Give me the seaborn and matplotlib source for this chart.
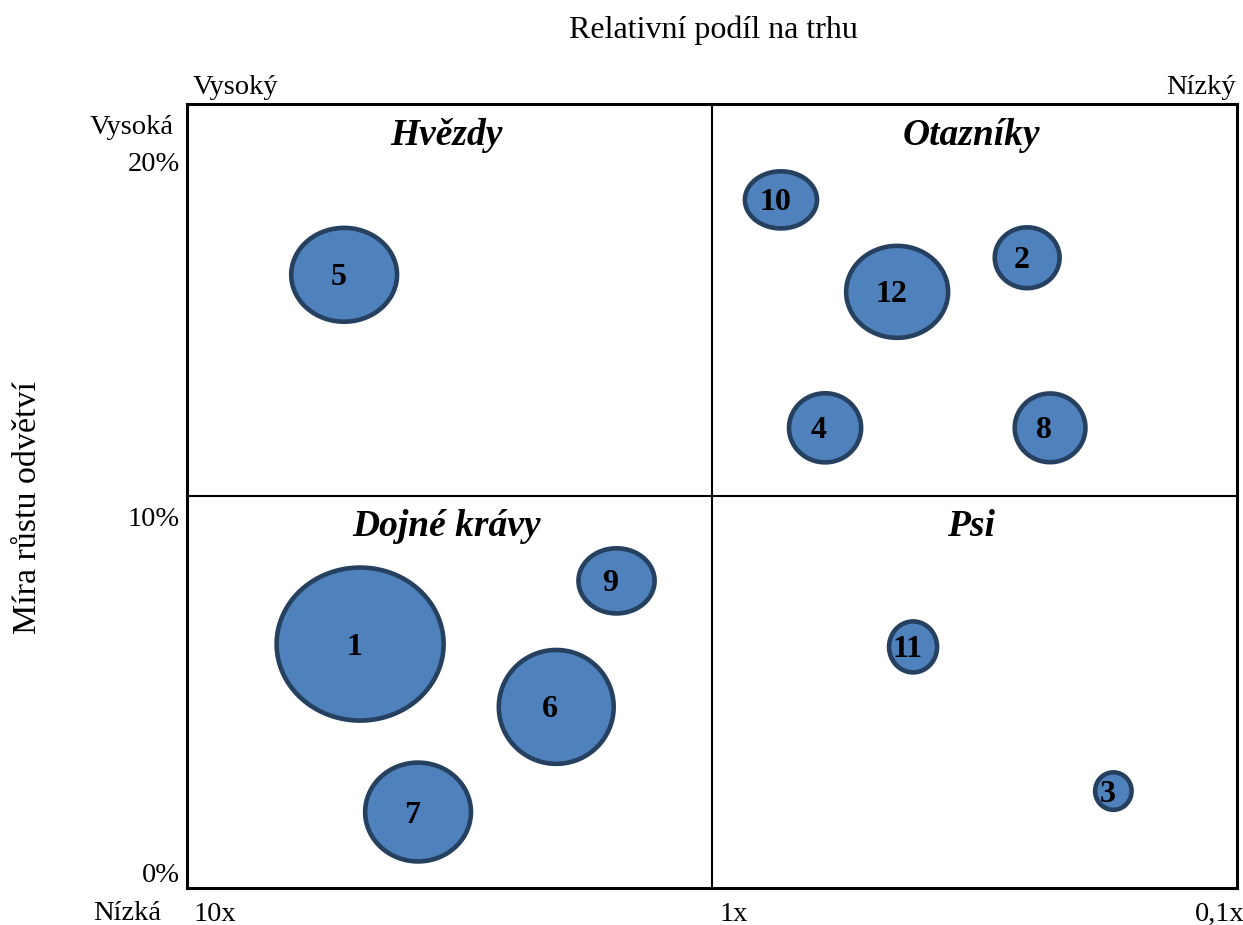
import numpy as np
import pandas as pd
import matplotlib
matplotlib.use("Agg")
import matplotlib.pyplot as plt
import matplotlib.path as mpath
import matplotlib.transforms as mtrans
import seaborn as sns

# ---------------- data ----------------
produkty = ["1", "2", "3", "4", "5", "6", "7", "8", "9", "10", "11", "12"]
relativni_podil = [4.68, 0.251, 0.172, 0.609, 5.02, 1.98, 3.63, 0.227, 1.52, 0.739, 0.414, 0.444]
mira_rustu = [6.42, 17.30, 2.28, 12.51, 16.82, 4.65, 1.69, 12.51, 8.20, 18.93, 6.34, 16.34]
velikost = [279, 42, 14, 52, 112, 132, 112, 50, 58, 52, 26, 104]
# height / width of each drawn bubble
pomer_stran = [153 / 167, 61 / 65, 38 / 37, 69 / 72, 94 / 106, 114 / 115,
               99 / 106, 69 / 71, 65 / 76, 57 / 72, 51 / 48, 92 / 102]

kvadranty = ["Hvězdy", "Otazníky", "Dojné krávy", "Psi"]
x_ticks = [10, 1, 0.1]
x_labels = ["10x", "1x", "0,1x"]
y_ticks = [0, 10, 20]
y_labels = ["0%", "10%", "20%"]
x_title = "Relativní podíl na trhu"
y_title = "Míra růstu odvětví"
x_kraje = ["Vysoký", "Nízký"]
y_kraje = ["Vysoká", "Nízká"]

df = pd.DataFrame({"produkt": produkty, "podil": relativni_podil,
                   "rust": mira_rustu, "velikost": velikost})

# ---------------- style ----------------
sns.set_theme(style="white")
plt.rcParams["font.family"] = ["Liberation Serif", "DejaVu Serif"]
plt.rcParams["text.color"] = "black"

W, H = 1243, 925
fig = plt.figure(figsize=(W / 100, H / 100), dpi=100)
ax = fig.add_axes([187 / W, 1 - 888 / H, (1237 - 187) / W, (888 - 104) / H])
ax.set_xscale("log")
ax.set_xlim(10, 0.1)
ylo, yhi = -0.45, 21.63
ax.set_ylim(ylo, yhi)


def ellipse(a):
    t = np.linspace(0, 2 * np.pi, 120)
    return mpath.Path(np.column_stack([np.cos(t), a * np.sin(t)]), closed=True)


markers = {p: ellipse(a) for p, a in zip(produkty, pomer_stran)}
vmax = max(velikost)

sns.scatterplot(data=df, x="podil", y="rust", size="velikost",
                sizes=(0, 51.84 * vmax), size_norm=(0, vmax),
                style="produkt", markers=markers,
                color="#4F81BD", edgecolor="#26405F", linewidth=3.3,
                legend=False, ax=ax, zorder=3)

lab_off = mtrans.ScaledTranslation(-6 / 100, -3 / 100, fig.dpi_scale_trans)
for p, xv, yv in zip(produkty, relativni_podil, mira_rustu):
    ax.text(xv, yv, p, ha="center", va="center", fontsize=23, fontweight="bold",
            zorder=4, transform=ax.transData + lab_off)

# quadrant lines
ax.axvline(1, color="black", lw=1.5, zorder=2)
ax.axhline((ylo + yhi) / 2, color="black", lw=1.5, zorder=2)
for s in ax.spines.values():
    s.set_color("black")
    s.set_linewidth(2.2)

# quadrant titles
qpos = [(0.247, 0.948), (0.747, 0.948), (0.247, 0.449), (0.747, 0.449)]
for name, (qx, qy) in zip(kvadranty, qpos):
    ax.text(qx, qy, name, transform=ax.transAxes, ha="center", va="baseline",
            fontsize=27, fontweight="bold", fontstyle="italic")

# ticks
ax.set_xticks(x_ticks)
ax.set_xticklabels(x_labels)
ax.xaxis.set_minor_locator(matplotlib.ticker.NullLocator())
ax.set_yticks(y_ticks)
ax.set_yticklabels(y_labels)
ax.tick_params(axis="both", length=0, labelsize=20.5, colors="black")
ax.tick_params(axis="x", pad=10)
ax.tick_params(axis="y", pad=5)
ax.set_xlabel("")
ax.set_ylabel("")
xt = ax.get_xticklabels()
offs = [(7, "left"), (8, "left"), (8, "right")]
for lab, (dx, ha) in zip(xt, offs):
    lab.set_ha(ha)
    lab.set_transform(lab.get_transform() + mtrans.ScaledTranslation(dx / 100, 0, fig.dpi_scale_trans))

# axis titles and extremes
fig.text(713 / W, 1 - 30 / H, x_title, ha="center", va="center", fontsize=23)
fig.text(28 / W, 1 - 508 / H, y_title, ha="center", va="center", fontsize=24.5, rotation=90)
fig.text(193 / W, 1 - 88 / H, x_kraje[0], ha="left", va="center", fontsize=20.5)
fig.text(1236 / W, 1 - 88 / H, x_kraje[1], ha="right", va="center", fontsize=20.5)
fig.text(174 / W, 1 - 127 / H, y_kraje[0], ha="right", va="center", fontsize=20.5)
fig.text(161 / W, 1 - 914 / H, y_kraje[1], ha="right", va="center", fontsize=20.5)

fig.savefig("out.png", dpi=100)
